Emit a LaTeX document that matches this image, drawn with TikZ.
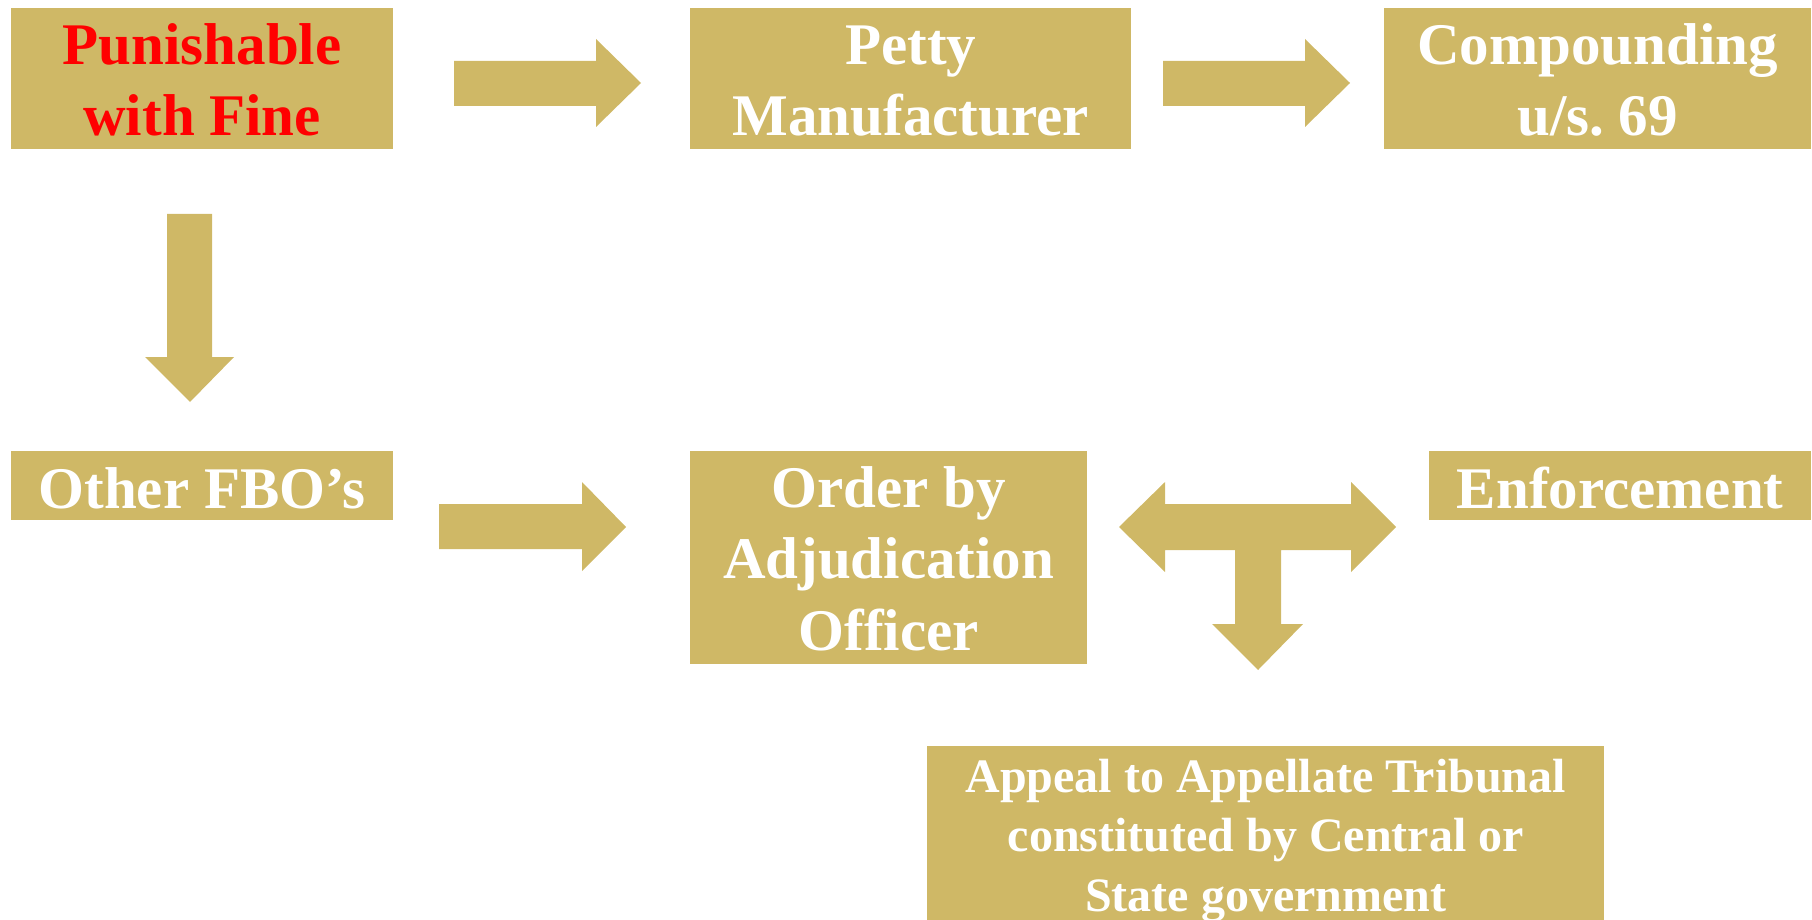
\documentclass[tikz,border=0pt]{standalone}
\usepackage{fontspec}
\setmainfont{Liberation Serif}
\definecolor{tan}{RGB}{207,184,102}
\definecolor{punred}{RGB}{255,0,0}
\tikzset{
  panel/.style={fill=tan, draw=none, inner sep=0pt, anchor=north west},
  boxtext/.style={anchor=base, inner sep=0pt, align=center, text=white,
    font=\fontsize{59}{71.5}\selectfont\bfseries\frenchspacing},
  smalltext/.style={boxtext, font=\fontsize{48}{59.5}\selectfont\bfseries\frenchspacing},
  blockarrow/.style={fill=tan, draw=none}
}
% \panel{name}{x}{y}{width}{height}: a filled box with its top-left corner at (x,y)
\newcommand\panel[5]{\node[panel, minimum width=#4pt, minimum height=#5pt] (#1) at (#2,#3) {};}
\begin{document}
\begin{tikzpicture}[x=1pt, y=-1pt]
\useasboundingbox (0,0) rectangle (1812,920);

% boxes
\panel{fine}{11}{8}{382}{141}
\panel{petty}{690}{8}{441}{141}
\panel{comp}{1384}{8}{427}{141}
\panel{other}{11}{451}{382}{69}
\panel{order}{690}{451}{397}{213}
\panel{enf}{1429}{451}{382}{69}
\panel{appeal}{927}{746}{677}{174}

% texts, placed by the baseline of their last line
\node[boxtext, text=punred] (tfine) at (fine.center |- 0,136) {Punishable\\with Fine};
\node[boxtext] (tpetty) at (petty.center |- 0,136) {Petty\\Manufacturer};
\node[boxtext] (tcomp) at (comp.center |- 0,136) {Compounding\\u/s. 69};
\node[boxtext] (tother) at (other.center |- 0,508) {Other FBO’s};
\node[boxtext] (torder) at (order.center |- 0,650) {Order by\\Adjudication\\Officer};
\node[boxtext] (tenf) at (enf.center |- 0,508) {Enforcement};
\node[smalltext] (tappeal) at (appeal.center |- 0,911) {Appeal to Appellate Tribunal\\constituted by Central or\\State government};

% block arrows
\fill[blockarrow] (454,61) -- (596,61) -- (596,39) -- (641,83) -- (596,127) -- (596,106) -- (454,106) -- cycle;
\fill[blockarrow] (1163,61) -- (1305,61) -- (1305,39) -- (1350,83) -- (1305,127) -- (1305,106) -- (1163,106) -- cycle;
\fill[blockarrow] (167,214) -- (212,214) -- (212,357) -- (234,357) -- (190,402) -- (145,357) -- (167,357) -- cycle;
\fill[blockarrow] (439,504) -- (582,504) -- (582,482) -- (626,527) -- (582,571) -- (582,549) -- (439,549) -- cycle;
\fill[blockarrow] (1119,527) -- (1165,482) -- (1165,504) -- (1351,504) -- (1351,482) -- (1396,527)
  -- (1351,572) -- (1351,550) -- (1281,550) -- (1281,624) -- (1303,624) -- (1258,670)
  -- (1212,624) -- (1235,624) -- (1235,550) -- (1165,550) -- (1165,572) -- cycle;
\end{tikzpicture}
\end{document}
